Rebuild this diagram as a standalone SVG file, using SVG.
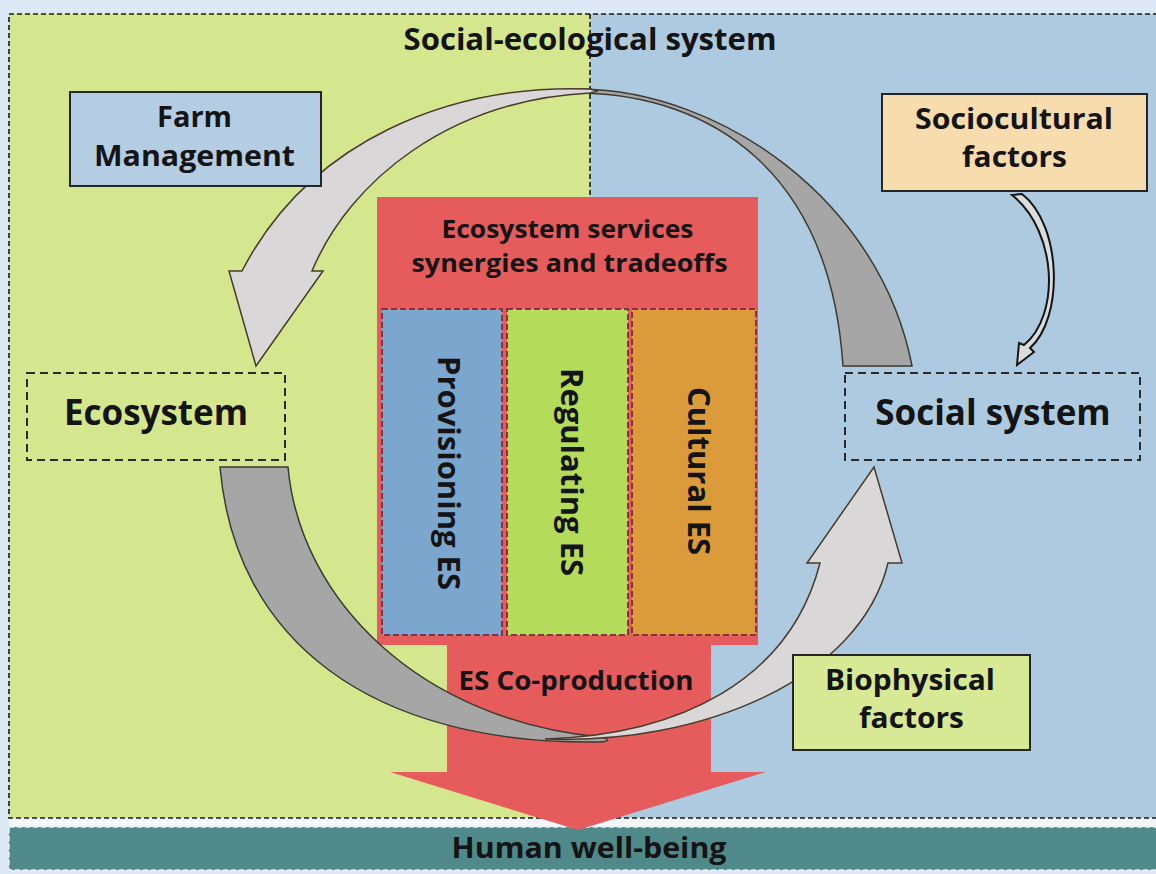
<svg xmlns="http://www.w3.org/2000/svg" width="1156" height="874" viewBox="0 0 1156 874">
<defs>
<style>
.t{font-family:"Open Sans","Noto Sans","DejaVu Sans",sans-serif;font-weight:bold;fill:#141414;text-anchor:middle}
.box{stroke:#262626;stroke-width:2}
.dbox{fill:none;stroke:#2a2a2a;stroke-width:2;stroke-dasharray:8 5}
.sub{stroke:#8a3040;stroke-width:2;stroke-dasharray:6 3}
.dark{fill:#a6a6a6;stroke:#3d3a30;stroke-width:1.5}
.light{fill:#d9d7d8;stroke:#4a3a2a;stroke-width:1.5}
</style>
</defs>
<g id="background">
<rect x="0" y="0" width="1156" height="874" fill="#dde9f6"/>
<rect x="9" y="14" width="581" height="804" fill="#d4e78e"/>
<rect x="590" y="14" width="570" height="804" fill="#aecae1"/>
<rect x="9" y="818" width="1147" height="9" fill="#f2f6fa"/>
<rect x="9" y="14" width="1160" height="804" fill="none" stroke="#1a1a1a" stroke-width="1.6" stroke-dasharray="5 3"/>
<line x1="590" y1="14" x2="590" y2="197" stroke="#1a1a1a" stroke-width="1.6" stroke-dasharray="5 3"/>
<text class="t" x="590" y="50" font-size="30" textLength="373" lengthAdjust="spacingAndGlyphs">Social-ecological system</text>
</g>
<g id="human-well-being">
<rect x="9" y="827" width="1160" height="43" fill="#4f898a" stroke="#e8eef2" stroke-width="1.5" stroke-dasharray="5 3"/>
<text class="t" x="589" y="858" font-size="29" textLength="275" lengthAdjust="spacingAndGlyphs">Human well-being</text>
</g>
<g id="es-synergies-tradeoffs">
<path d="M377,197 H758 V645 H711 V772 H766 L578,830 L390,772 H447 V645 H377 Z" fill="#e65b5c"/>
<text class="t" x="567.5" y="238" font-size="25" fill="#2a0606" textLength="252" lengthAdjust="spacingAndGlyphs">Ecosystem services</text>
<text class="t" x="569.5" y="272" font-size="25" fill="#2a0606" textLength="316" lengthAdjust="spacingAndGlyphs">synergies and tradeoffs</text>
<text class="t" x="576" y="690" font-size="27" fill="#2a0606" textLength="235" lengthAdjust="spacingAndGlyphs">ES Co-production</text>
</g>
<g id="provisioning-es">
<rect class="sub" x="382" y="309" width="120" height="326" fill="#7ba6cd"/>
<text class="t" font-size="31" fill="#0f1830" transform="translate(438,473) rotate(90)">Provisioning ES</text>
</g>
<g id="regulating-es">
<rect class="sub" x="507" y="309" width="121" height="326" fill="#b4dc5a"/>
<text class="t" font-size="31" fill="#0f1f10" transform="translate(561,472) rotate(90)">Regulating ES</text>
</g>
<g id="cultural-es">
<rect class="sub" x="632" y="309" width="124" height="326" fill="#dc9b3a"/>
<text class="t" font-size="31" fill="#2a1505" transform="translate(688,471) rotate(90)">Cultural ES</text>
</g>
<g id="ecosystem">
<rect class="dbox" x="27" y="373" width="258" height="87"/>
<text class="t" x="156" y="425" font-size="35">Ecosystem</text>
</g>
<g id="social-system">
<rect class="dbox" x="845" y="373" width="295" height="87"/>
<text class="t" x="993" y="425" font-size="35">Social system</text>
</g>
<g id="connectors">
<path class="dark" d="M568,91 C590,88 600,89 580,89 C720,90 880,200 912,366 L843,366 C830,170 710,95 580,93 Z"/>
<path class="light" d="M598,91 L590,89 C450,84 310,140 242,271 L229,271 L256,366 L323,271 L312,271 C350,180 450,100 590,93 Z"/>
<path class="dark" d="M220,467 L288,467 C300,600 420,720 600,737 C610,739 610,741 600,742 C370,745 235,640 220,467 Z"/>
<path class="light" d="M545,739 C680,735 790,680 820,563 L807,563 L874,467 L902,563 L888,563 C860,680 700,745 545,739 Z"/>
<path d="M1012,195 L1022,194 C1062,225 1064,318 1030,348 L1034,352 L1017,365 L1019,343 L1024,345 C1060,316 1058,232 1012,195 Z" fill="#dcdcdc" stroke="#141414" stroke-width="2"/>
</g>
<g id="farm-management">
<rect class="box" x="70" y="92" width="251" height="94" fill="#b4cde2"/>
<text class="t" x="194.5" y="127" font-size="29" textLength="75" lengthAdjust="spacingAndGlyphs">Farm</text>
<text class="t" x="194.5" y="166" font-size="29" textLength="201" lengthAdjust="spacingAndGlyphs">Management</text>
</g>
<g id="sociocultural-factors">
<rect class="box" x="882" y="94" width="265" height="97" fill="#f7dcae"/>
<text class="t" x="1014" y="129" font-size="29" textLength="198" lengthAdjust="spacingAndGlyphs">Sociocultural</text>
<text class="t" x="1014.5" y="167" font-size="29" textLength="105" lengthAdjust="spacingAndGlyphs">factors</text>
</g>
<g id="biophysical-factors">
<rect class="box" x="793" y="655" width="237" height="95" fill="#d7e994"/>
<text class="t" x="910" y="690" font-size="29" textLength="170" lengthAdjust="spacingAndGlyphs">Biophysical</text>
<text class="t" x="911.5" y="728" font-size="29" textLength="105" lengthAdjust="spacingAndGlyphs">factors</text>
</g>
</svg>
